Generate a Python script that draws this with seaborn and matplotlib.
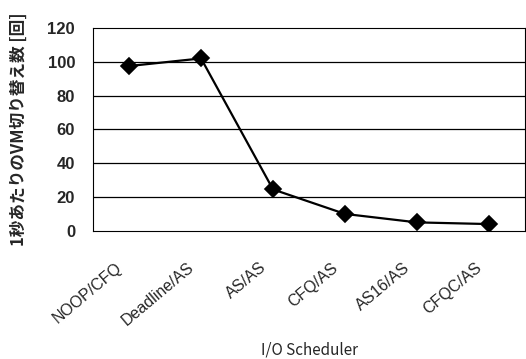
import matplotlib
matplotlib.use("Agg")
import matplotlib.pyplot as plt
import matplotlib.transforms as mtransforms
import seaborn as sns
import pandas as pd
import numpy as np

schedulers = ["NOOP/CFQ", "Deadline/AS", "AS/AS", "CFQ/AS", "AS16/AS", "CFQC/AS"]
switches = [97.5, 102, 24.5, 10, 5, 4]
y_ticks = [0, 20, 40, 60, 80, 100, 120]

sns.set_style("white")
plt.rcParams["font.family"] = ["Liberation Sans", "Noto Sans CJK JP", "DejaVu Sans"]

df = pd.DataFrame({"scheduler": schedulers, "switches": switches})

fig = plt.figure(figsize=(5.26, 3.59), dpi=100)
ax = fig.add_axes([0.177, 0.357, 0.821, 0.565])

sns.pointplot(data=df, x="scheduler", y="switches", order=schedulers,
              color="black", markers="D", linestyles="-",
              markersize=8, linewidth=1.6, ax=ax)

ax.set_ylim(0, 120)
ax.set_xlim(-0.5, len(schedulers) - 0.5)
ax.set_yticks(y_ticks)
ax.set_yticklabels([str(v) for v in y_ticks], fontsize=12, fontweight="bold")
for v in y_ticks[1:-1]:
    ax.axhline(v, color="black", linewidth=0.9, zorder=0)

ax.set_xticks(range(len(schedulers)))
ax.set_xticklabels(schedulers, rotation=40, ha="right", va="center",
                   rotation_mode="anchor", fontsize=11.5)
ax.tick_params(axis="x", which="major", length=0, pad=25)
shift = mtransforms.ScaledTranslation(-9 / 100, 0, fig.dpi_scale_trans)
for lbl in ax.get_xticklabels():
    lbl.set_transform(lbl.get_transform() + shift)
ax.set_xticks(np.arange(-0.5, len(schedulers), 1.0), minor=True)
ax.tick_params(axis="x", which="minor", direction="in", length=4,
               width=0.8, color="black")
ax.tick_params(axis="y", length=0, pad=13)

for side in ["left", "right", "top", "bottom"]:
    ax.spines[side].set_visible(True)
    ax.spines[side].set_color("black")
    ax.spines[side].set_linewidth(0.8)

ax.set_xlabel("I/O Scheduler", fontsize=11,
              family=["Noto Sans CJK JP", "DejaVu Sans"])
ax.xaxis.set_label_coords(0.5, -0.545)
ax.set_ylabel("1秒あたりのVM切り替え数 [回]", fontsize=12, fontweight="bold",
              family=["Noto Sans CJK JP", "DejaVu Sans"])
ax.yaxis.set_label_coords(-0.15, 0.5)

fig.savefig("out.png", dpi=100)
